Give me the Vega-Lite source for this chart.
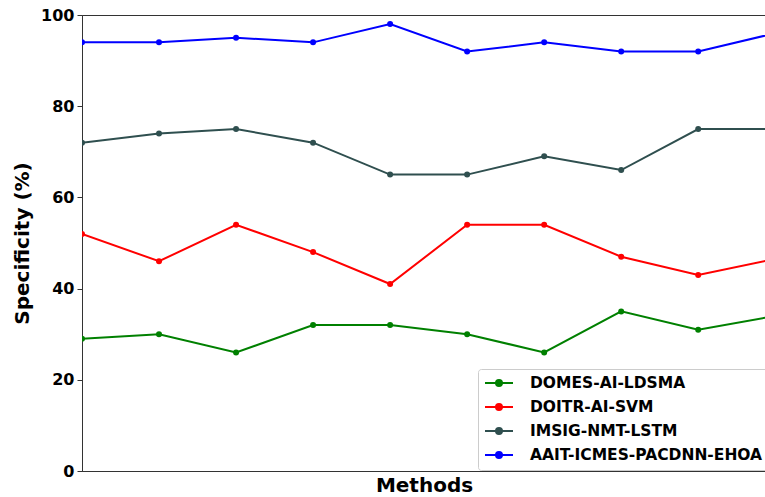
{
  "$schema": "https://vega.github.io/schema/vega-lite/v6.json",
  "autosize": "none",
  "padding": {"left": 82, "top": 15, "right": 0, "bottom": 26},
  "width": 684,
  "height": 456,
  "background": "white",
  "config": {
    "view": {"stroke": "#333333", "strokeWidth": 1},
    "font": "DejaVu Sans"
  },
  "data": {
    "values": [
      {"idx": 0, "method": "DOMES-AI-LDSMA", "value": 29},
      {"idx": 1, "method": "DOMES-AI-LDSMA", "value": 30},
      {"idx": 2, "method": "DOMES-AI-LDSMA", "value": 26},
      {"idx": 3, "method": "DOMES-AI-LDSMA", "value": 32},
      {"idx": 4, "method": "DOMES-AI-LDSMA", "value": 32},
      {"idx": 5, "method": "DOMES-AI-LDSMA", "value": 30},
      {"idx": 6, "method": "DOMES-AI-LDSMA", "value": 26},
      {"idx": 7, "method": "DOMES-AI-LDSMA", "value": 35},
      {"idx": 8, "method": "DOMES-AI-LDSMA", "value": 31},
      {"idx": 9, "method": "DOMES-AI-LDSMA", "value": 34},
      {"idx": 0, "method": "DOITR-AI-SVM", "value": 52},
      {"idx": 1, "method": "DOITR-AI-SVM", "value": 46},
      {"idx": 2, "method": "DOITR-AI-SVM", "value": 54},
      {"idx": 3, "method": "DOITR-AI-SVM", "value": 48},
      {"idx": 4, "method": "DOITR-AI-SVM", "value": 41},
      {"idx": 5, "method": "DOITR-AI-SVM", "value": 54},
      {"idx": 6, "method": "DOITR-AI-SVM", "value": 54},
      {"idx": 7, "method": "DOITR-AI-SVM", "value": 47},
      {"idx": 8, "method": "DOITR-AI-SVM", "value": 43},
      {"idx": 9, "method": "DOITR-AI-SVM", "value": 46.5},
      {"idx": 0, "method": "IMSIG-NMT-LSTM", "value": 72},
      {"idx": 1, "method": "IMSIG-NMT-LSTM", "value": 74},
      {"idx": 2, "method": "IMSIG-NMT-LSTM", "value": 75},
      {"idx": 3, "method": "IMSIG-NMT-LSTM", "value": 72},
      {"idx": 4, "method": "IMSIG-NMT-LSTM", "value": 65},
      {"idx": 5, "method": "IMSIG-NMT-LSTM", "value": 65},
      {"idx": 6, "method": "IMSIG-NMT-LSTM", "value": 69},
      {"idx": 7, "method": "IMSIG-NMT-LSTM", "value": 66},
      {"idx": 8, "method": "IMSIG-NMT-LSTM", "value": 75},
      {"idx": 9, "method": "IMSIG-NMT-LSTM", "value": 75},
      {"idx": 0, "method": "AAIT-ICMES-PACDNN-EHOA", "value": 94},
      {"idx": 1, "method": "AAIT-ICMES-PACDNN-EHOA", "value": 94},
      {"idx": 2, "method": "AAIT-ICMES-PACDNN-EHOA", "value": 95},
      {"idx": 3, "method": "AAIT-ICMES-PACDNN-EHOA", "value": 94},
      {"idx": 4, "method": "AAIT-ICMES-PACDNN-EHOA", "value": 98},
      {"idx": 5, "method": "AAIT-ICMES-PACDNN-EHOA", "value": 92},
      {"idx": 6, "method": "AAIT-ICMES-PACDNN-EHOA", "value": 94},
      {"idx": 7, "method": "AAIT-ICMES-PACDNN-EHOA", "value": 92},
      {"idx": 8, "method": "AAIT-ICMES-PACDNN-EHOA", "value": 92},
      {"idx": 9, "method": "AAIT-ICMES-PACDNN-EHOA", "value": 96}
    ]
  },
  "mark": {"type": "line", "strokeWidth": 2, "clip": true, "point": {"size": 36, "filled": true, "clip": true}},
  "encoding": {
    "x": {
      "field": "idx", "type": "quantitative",
      "scale": {"domain": [0, 8.88], "nice": false, "zero": false},
      "axis": {
        "title": "Methods", "labels": false, "ticks": false, "grid": false,
        "domainColor": "#333333", "titleFontSize": 20, "titleFontWeight": "bold",
        "titleColor": "black", "titlePadding": 4
      }
    },
    "y": {
      "field": "value", "type": "quantitative",
      "scale": {"domain": [0, 100], "nice": false},
      "axis": {
        "title": "Specificity (%)", "values": [0, 20, 40, 60, 80, 100], "grid": false,
        "labelFontSize": 16, "labelFontWeight": "bold", "labelColor": "black",
        "tickColor": "#333333", "tickSize": 5, "domainColor": "#333333",
        "titleFontSize": 20, "titleFontWeight": "bold", "titleColor": "black",
        "titlePadding": 8, "labelPadding": 3
      }
    },
    "color": {
      "field": "method", "type": "nominal",
      "scale": {
        "domain": ["DOMES-AI-LDSMA", "DOITR-AI-SVM", "IMSIG-NMT-LSTM", "AAIT-ICMES-PACDNN-EHOA"],
        "range": ["#008000", "#ff0000", "#2f4f4f", "#0000ff"]
      },
      "legend": {
        "title": null, "orient": "none", "legendX": 396, "legendY": 354,
        "labelFontSize": 15.5, "labelFontWeight": "bold", "labelColor": "black",
        "symbolType": "M-1,0L3,0M0.57,0A0.43,0.43 0 1,0 1.43,0A0.43,0.43 0 1,0 0.57,0Z",
        "symbolSize": 196, "symbolStrokeWidth": 2, "rowPadding": 7,
        "padding": 6, "fillColor": "rgba(255,255,255,0.8)", "strokeColor": "#cccccc",
        "cornerRadius": 3, "labelOffset": 30, "labelLimit": 400,
        "encode": {"symbols": {"update": {"fill": {"scale": "color", "field": "value"}, "fillOpacity": {"value": 1}}}}
      }
    }
  }
}
